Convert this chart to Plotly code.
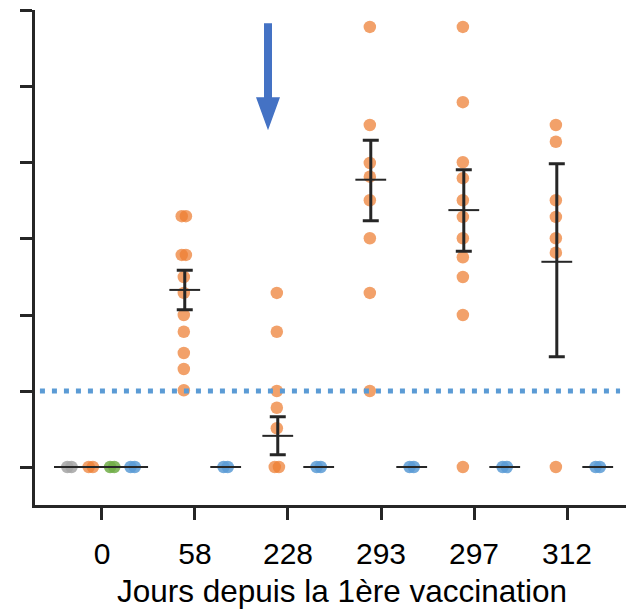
import plotly.graph_objects as go

# ---- data (y in log-titer tick units, ticks at 0..6) ----
days = ["0", "58", "228", "293", "297", "312"]

orange_d0 = [0, 0]
orange_d58 = [3.30, 3.30, 2.79, 2.79, 2.50, 2.29, 2.00, 1.78, 1.50, 1.29, 1.01]
orange_d228 = [2.29, 1.78, 1.00, 0.78, 0.51, 0, 0]
orange_d293 = [5.79, 4.50, 4.00, 3.82, 3.51, 3.01, 2.29, 1.00]
orange_d297 = [5.79, 4.80, 4.01, 3.80, 3.51, 3.29, 3.01, 2.76, 2.50, 2.00, 0]
orange_d312 = [4.50, 4.28, 3.51, 3.29, 3.01, 2.82, 0]

blue_d0 = [0, 0]
blue_d58 = [0, 0]
blue_d228 = [0, 0]
blue_d293 = [0, 0]
blue_d297 = [0, 0]
blue_d312 = [0, 0]

grey_d0 = [0, 0]
green_d0 = [0, 0]

mean_days = ["58", "228", "293", "297", "312"]
mean_orange = [2.33, 0.41, 3.78, 3.38, 2.70]
err_plus = [0.26, 0.25, 0.52, 0.53, 1.29]
err_minus = [0.26, 0.25, 0.54, 0.54, 1.25]

threshold = 1.0
arrow_day = "228"
arrow_tip = 4.43
x_title = "Jours depuis la 1ère vaccination"

# ---- styling / layout helpers ----
ORANGE = "rgba(237,125,49,0.72)"
BLUE = "rgba(91,155,213,0.85)"
GREY = "rgba(165,165,165,0.85)"
GREEN = "rgba(112,173,71,0.85)"
DARK = "#262626"

dodge = {"grey": -0.35, "orange": -0.12, "green": 0.11, "blue": 0.33}
SPREAD = 0.045

idx = {d: i for i, d in enumerate(days)}


def swarm(day, values, group):
    """spread equal values horizontally (simple beeswarm)"""
    xs = []
    counts = {}
    for v in values:
        counts[v] = counts.get(v, 0) + 1
    seen = {}
    for v in values:
        n = counts[v]
        k = seen.get(v, 0)
        seen[v] = k + 1
        xs.append(idx[day] + dodge[group] + (k - (n - 1) / 2) * SPREAD)
    return xs


fig = go.Figure()


def add_points(day, values, group, color):
    fig.add_trace(go.Scatter(
        x=swarm(day, values, group), y=values, mode="markers",
        marker=dict(size=12.5, color=color, line=dict(width=0)),
        showlegend=False, hoverinfo="skip"))


orange_sets = [("0", orange_d0), ("58", orange_d58), ("228", orange_d228),
               ("293", orange_d293), ("297", orange_d297), ("312", orange_d312)]
blue_sets = [("0", blue_d0), ("58", blue_d58), ("228", blue_d228),
             ("293", blue_d293), ("297", blue_d297), ("312", blue_d312)]

add_points("0", grey_d0, "grey", GREY)
add_points("0", green_d0, "green", GREEN)
for d, vals in orange_sets:
    add_points(d, vals, "orange", ORANGE)
for d, vals in blue_sets:
    add_points(d, vals, "blue", BLUE)

# median lines for groups sitting at zero
med_x = []
med_y = []
for grp, sets in [("grey", [("0", grey_d0)]), ("green", [("0", green_d0)]),
                  ("orange", [("0", orange_d0)]), ("blue", blue_sets)]:
    for d, vals in sets:
        s = sorted(vals)
        med_x.append(idx[d] + dodge[grp])
        med_y.append(s[len(s) // 2])
fig.add_trace(go.Scatter(
    x=med_x, y=med_y, mode="markers",
    marker=dict(symbol="line-ew", size=22, line=dict(width=2, color=DARK)),
    showlegend=False, hoverinfo="skip"))

# mean +/- error for orange
fig.add_trace(go.Scatter(
    x=[idx[d] + dodge["orange"] + 0.01 for d in mean_days], y=mean_orange,
    mode="markers",
    marker=dict(symbol="line-ew", size=22, line=dict(width=2, color=DARK)),
    error_y=dict(type="data", array=err_plus, arrayminus=err_minus,
                 color=DARK, thickness=3, width=8),
    showlegend=False, hoverinfo="skip"))

# threshold dotted line
fig.add_shape(type="line", xref="x", yref="y",
              x0=-0.667, x1=5.57, y0=threshold, y1=threshold,
              line=dict(color="#5B9BD5", width=5, dash="5px,7px"))

# arrow (pixel-sized path anchored at its tip)
fig.add_shape(type="path", xref="x", yref="y",
              xsizemode="pixel", ysizemode="pixel",
              xanchor=idx[arrow_day] - 0.215, yanchor=arrow_tip,
              path="M -4,33 L -4,107 L 4,107 L 4,33 L 12,33 L 0,0 L -12,33 Z",
              fillcolor="#4472C4", line=dict(width=0))

# x axis title (slightly right of centre, as in the original)
fig.add_annotation(text=x_title, xref="paper", yref="paper",
                   x=0.5195, y=-0.174, xanchor="center", yanchor="middle",
                   showarrow=False, font=dict(size=31.5))

fig.update_layout(
    width=626, height=614,
    margin=dict(l=35, r=0, t=10, b=109),
    plot_bgcolor="white", paper_bgcolor="white",
    font=dict(family="Liberation Sans, Arial, sans-serif", color="black"),
    xaxis=dict(range=[-0.72, 5.634], tickmode="array",
               tickvals=list(range(len(days))), ticktext=days,
               showline=True, linewidth=3, linecolor=DARK,
               ticks="outside", ticklen=12, tickwidth=3, tickcolor=DARK,
               showgrid=False, zeroline=False,
               tickfont=dict(size=30), ticklabelstandoff=8),
    yaxis=dict(range=[-0.5, 6.013], tickmode="array",
               tickvals=list(range(7)), showticklabels=False,
               showline=True, linewidth=3, linecolor=DARK,
               ticks="outside", ticklen=12, tickwidth=3, tickcolor=DARK,
               showgrid=False, zeroline=False),
)

fig.write_html("out.html", config={"displayModeBar": False},
               post_script="document.body.style.margin='0';")
